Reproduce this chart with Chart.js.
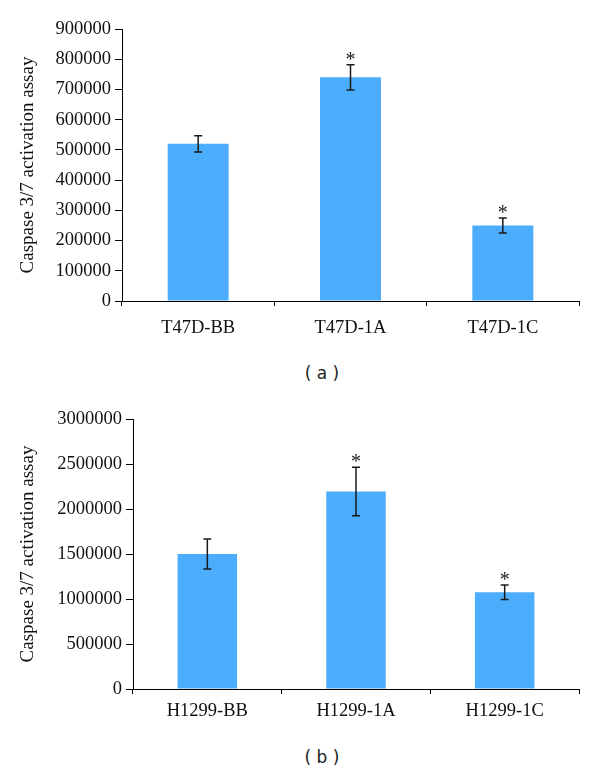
<!DOCTYPE html>
<html>
<head>
<meta charset="utf-8">
<script src="https://cdn.jsdelivr.net/npm/chart.js@4/dist/chart.umd.min.js"></script>
<style>
  body { margin: 0; background: #fff; }
  #wrap { position: relative; width: 600px; height: 772px; overflow: hidden; }
  canvas { position: absolute; left: 0; }
  .cap { position: absolute; width: 80px; text-align: center; font-family: "DejaVu Sans", sans-serif; font-size: 17px; color: #222; white-space: pre; }
</style>
</head>
<body>
<div id="wrap">
  <canvas id="chartA" width="600" height="345" style="top:0px"></canvas>
  <div class="cap" style="left:282px; top:363px;">( a )</div>
  <canvas id="chartB" width="600" height="345" style="top:390px"></canvas>
  <div class="cap" style="left:282px; top:747px;">( b )</div>
</div>
<script>
// panel (a)
const catsA = ['T47D-BB', 'T47D-1A', 'T47D-1C'];
const valsA = [520000, 740000, 250000];
const errA = [27000, 42000, 25000];
const sigA = ['', '*', '*'];
const maxA = 900000, stepA = 100000;

// panel (b)
const catsB = ['H1299-BB', 'H1299-1A', 'H1299-1C'];
const valsB = [1500000, 2195000, 1075000];
const errB = [167000, 270000, 80000];
const sigB = ['', '*', '*'];
const maxB = 3000000, stepB = 500000;

const yTitle = 'Caspase 3/7 activation assay';
const serif = '"Liberation Serif", "Times New Roman", serif';

// error bars + significance stars, placed through the y scale
const errorBars = {
  id: 'errorBars',
  afterDatasetsDraw(chart, args, opts) {
    const ctx = chart.ctx;
    const y = chart.scales.y;
    const meta = chart.getDatasetMeta(0);
    ctx.save();
    ctx.strokeStyle = '#1a1a1a';
    ctx.lineWidth = 1.5;
    meta.data.forEach((bar, i) => {
      const v = chart.data.datasets[0].data[i];
      const e = opts.errors[i];
      const top = y.getPixelForValue(v + e);
      const bot = y.getPixelForValue(v - e);
      ctx.beginPath();
      ctx.moveTo(bar.x, top); ctx.lineTo(bar.x, bot);
      ctx.moveTo(bar.x - 4, top); ctx.lineTo(bar.x + 4, top);
      ctx.moveTo(bar.x - 4, bot); ctx.lineTo(bar.x + 4, bot);
      ctx.stroke();
      if (opts.stars[i]) {
        ctx.fillStyle = '#222';
        ctx.font = '20px ' + serif;
        ctx.textAlign = 'center';
        ctx.textBaseline = 'alphabetic';
        ctx.fillText(opts.stars[i], bar.x, top + 1);
      }
    });
    ctx.restore();
  }
};

function makeChart(id, cats, vals, errs, stars, yMax, yStep, yWidth, xHeight, labelPad) {
  return new Chart(document.getElementById(id), {
    type: 'bar',
    data: {
      labels: cats,
      datasets: [{
        data: vals,
        backgroundColor: '#4badfc',
        borderWidth: 0,
        barPercentage: 0.4,
        categoryPercentage: 1.0
      }]
    },
    options: {
      responsive: false,
      animation: false,
      layout: { padding: { top: 29, right: 21, left: 0, bottom: 0 } },
      plugins: {
        legend: { display: false },
        tooltip: { enabled: false },
        errorBars: { errors: errs, stars: stars }
      },
      scales: {
        x: {
          grid: { display: true, drawOnChartArea: false, drawTicks: true, tickLength: 5, color: '#000', offset: true },
          border: { display: true, color: '#000', width: 1 },
          ticks: { color: '#111', font: { family: serif, size: 18.5 }, padding: labelPad, maxRotation: 0 },
          afterFit(scale) { scale.height = xHeight; }
        },
        y: {
          min: 0,
          max: yMax,
          grid: { display: true, drawOnChartArea: false, drawTicks: true, tickLength: 7, color: '#000' },
          border: { display: true, color: '#000', width: 1 },
          ticks: {
            stepSize: yStep,
            color: '#111',
            font: { family: serif, size: 18.5 },
            padding: 4,
            callback: v => String(v)
          },
          title: {
            display: true,
            text: yTitle,
            color: '#111',
            font: { family: serif, size: 19 },
            padding: { top: 17, bottom: 0 }
          },
          afterFit(scale) { scale.width = yWidth; }
        }
      }
    },
    plugins: [errorBars]
  });
}

makeChart('chartA', catsA, valsA, errA, sigA, maxA, stepA, 122, 44, 11);
makeChart('chartB', catsB, valsB, errB, sigB, maxB, stepB, 133, 46, 6);
</script>
</body>
</html>
